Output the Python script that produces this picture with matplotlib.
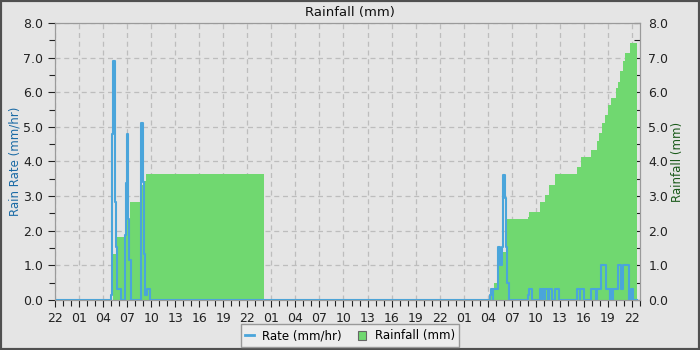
import matplotlib
matplotlib.use("Agg")
import matplotlib.pyplot as plt
from matplotlib.lines import Line2D
from matplotlib.patches import Patch, Rectangle
from matplotlib.ticker import MultipleLocator, FixedLocator

# Time axis: hours since the first label (22:00), 3 days shown
start_hour = 22
x_end = 73.0

# Daily rainfall total (mm), step changes: (hours, mm)
rain_hours = [0, 7.29, 7.7, 8.875, 9.33, 10.9, 11.1, 11.3, 11.4, 26.1,
              54.25, 54.79, 55.29, 55.625, 56.3, 59.04, 59.21, 60.5, 61.125,
              61.625, 62.375, 65.125, 65.67, 66.875, 67.625, 67.875, 68.21,
              68.625, 68.96, 69.375, 69.96, 70.21, 70.46, 70.875, 71.125,
              71.71, 72.58]
rain_mm = [0, 1.33, 1.81, 2.31, 2.83, 3.32, 3.45, 3.59, 3.64, 0,
           0.14, 0.5, 1.0, 1.4, 2.35, 2.39, 2.53, 2.83, 3.03,
           3.32, 3.64, 3.84, 4.13, 4.33, 4.6, 4.82, 5.12,
           5.33, 5.63, 5.83, 6.12, 6.31, 6.6, 6.9, 7.13,
           7.42, 0]

# Rain rate (mm/hr), step changes
rate_hours = [0.25, 7.0, 7.17, 7.29, 7.46, 7.54, 7.625, 7.79, 8.21,
              8.75, 8.875, 9.04, 9.17, 9.29, 9.46,
              10.75, 10.92, 11.08, 11.2, 11.42, 11.875,
              54.25, 54.375, 54.6, 54.65, 55.29, 55.5, 55.75, 55.96, 56.125,
              56.29, 56.46, 56.625,
              59.04, 59.17, 59.5, 60.54, 60.7, 60.75, 60.96, 61.125, 61.55,
              61.6, 62.08, 62.375, 62.83,
              65.125, 65.5, 65.55, 66.0, 66.9, 67.46, 67.67, 68.125, 68.7,
              69.2, 69.25, 69.55, 69.6, 70.25, 70.67, 70.9, 71.6, 71.83,
              72.1, 72.6]
rate_mmhr = [0, 0.14, 4.8, 6.9, 4.8, 2.83, 1.54, 0.31, 0,
             1.88, 3.38, 4.8, 2.33, 1.15, 0,
             5.1, 3.4, 1.33, 0.14, 0.31, 0,
             0.14, 0.31, 0, 0.31, 1.52, 1.01, 1.52, 3.6, 2.95,
             1.52, 0.5, 0,
             0.14, 0.31, 0, 0.31, 0, 0.31, 0, 0.31, 0,
             0.31, 0, 0.31, 0,
             0.31, 0, 0.31, 0, 0.31, 0, 0.31, 1.01, 0.31,
             0, 0.31, 0, 0.31, 1.01, 0.31, 1.01, 0, 0.31,
             0, 0]

bg = "#e5e5e5"
blue = "#4aa5db"
green = "#70d870"

fig = plt.figure(figsize=(7, 3.5), dpi=100, facecolor=bg)
ax2 = fig.add_axes([55 / 700, 50 / 350, 585 / 700, 277 / 350])
ax1 = ax2.twinx()
ax1.set_zorder(ax2.get_zorder() + 1)
ax1.patch.set_visible(False)
ax2.set_facecolor(bg)

# rainfall fill (right axis), drawn under the rate line
ax2.fill_between(rain_hours, rain_mm, step="post", color=green, linewidth=0)
ax1.plot(rate_hours, rate_mmhr, drawstyle="steps-post", color=blue, lw=1.5)

for a in (ax1, ax2):
    a.set_xlim(0, x_end)
    a.set_ylim(0, 8)
    for s in a.spines.values():
        s.set_color("#9a9a9a")

ax2.set_axisbelow(True)
ax2.grid(True, which="major", color="#bdbdbd", linestyle=(0, (4, 3)), lw=0.9)

xt = list(range(0, 73, 3))
ax2.xaxis.set_major_locator(FixedLocator(xt))
ax2.set_xticklabels(["%02d" % ((start_hour + h) % 24) for h in xt])
ax2.xaxis.set_minor_locator(MultipleLocator(1))

# ax2 is drawn below, but its y axis shows on the right
ax2.yaxis.tick_right()
ax2.yaxis.set_label_position("right")
ax1.yaxis.tick_left()
ax1.yaxis.set_label_position("left")

for a in (ax1, ax2):
    a.yaxis.set_major_locator(MultipleLocator(1))
    a.yaxis.set_minor_locator(MultipleLocator(0.5))
    a.yaxis.set_major_formatter(matplotlib.ticker.FormatStrFormatter("%.1f"))

ax1.tick_params(axis="y", which="both", direction="out", labelsize=9,
                colors="#222222", length=4, width=0.8)
ax1.tick_params(axis="y", which="major", length=5)
ax2.tick_params(axis="y", which="both", direction="in", labelsize=9,
                colors="#222222", length=4, width=0.8, pad=6)
ax2.tick_params(axis="x", which="both", direction="out", labelsize=9,
                colors="#222222", length=4, width=0.8)
ax2.tick_params(axis="x", which="major", length=5)
ax1.tick_params(axis="x", which="both", bottom=False, labelbottom=False)

ax1.set_ylabel("Rain Rate (mm/hr)", color="#1a6aa5", fontsize=8.5, labelpad=1)
ax2.set_ylabel("Rainfall (mm)", color="#1a5a1a", fontsize=8.5, labelpad=2)
fig.text(0.5, 0.965, "Rainfall (mm)", ha="center", va="center", fontsize=9.5,
         color="#111111")

handles = [Line2D([], [], color=blue, lw=2),
           Patch(facecolor=green, edgecolor="#666666", lw=0.8)]
fig.legend(handles, ["Rate (mm/hr)", "Rainfall (mm)"], loc="lower center",
           bbox_to_anchor=(0.5, -0.008), ncol=2, fontsize=8.5, frameon=True,
           fancybox=False, edgecolor="#999999", facecolor="#ececec",
           framealpha=1, handlelength=0.7, handleheight=0.8,
           columnspacing=1.4, handletextpad=0.7, borderpad=0.4)

fig.patches.append(Rectangle((0, 0), 1, 1, transform=fig.transFigure,
                             fill=False, edgecolor="#505050", lw=3))

fig.savefig("out.png", dpi=100, facecolor=bg)
